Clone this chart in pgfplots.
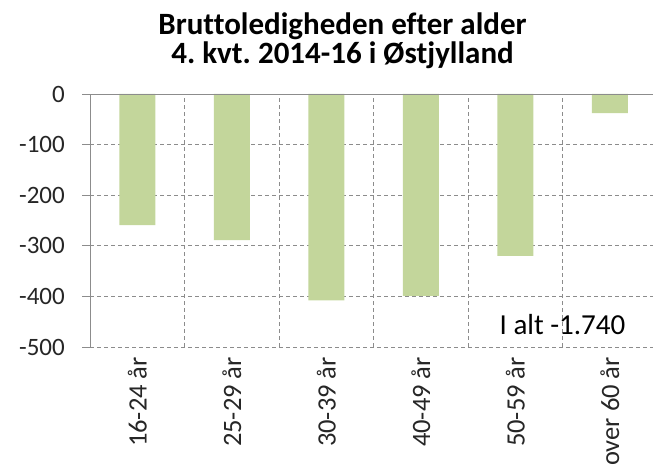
\documentclass[border=0pt]{standalone}
\usepackage{fontspec}
\setmainfont{Carlito}[Ligatures=NoCommon]
\usepackage{pgfplots}
\pgfplotsset{compat=1.18}
\definecolor{bargreen}{HTML}{C3D69B}
\definecolor{gridgray}{HTML}{8C8C8C}
\definecolor{txt}{HTML}{262626}
\frenchspacing
\begin{document}
\begin{tikzpicture}
\useasboundingbox (0,0) rectangle (653pt,470pt);
\clip (0,0) rectangle (653pt,470pt);
\node[anchor=base, inner sep=0pt, font=\bfseries\fontsize{31}{36}\selectfont, text=black] at (342.5pt,435pt) {Bruttoledigheden efter alder};
\node[anchor=base, inner sep=0pt, font=\bfseries\fontsize{31}{36}\selectfont, text=black] at (342.5pt,406pt) {4. kvt. 2014-16 i Østjylland};
\begin{axis}[
  at={(90pt,123pt)}, anchor=south west,
  scale only axis, width=567pt, height=253pt,
  xmin=-0.5, xmax=5.5, ymin=-500, ymax=0,
  ytick={-500,-400,-300,-200,-100,0},
  yticklabels={-500,-400,-300,-200,-100,0},
  xtick={0,1,2,3,4,5},
  xticklabels={16-24 år,25-29 år,30-39 år,40-49 år,50-59 år,over 60 år},
  minor xtick={0.5,1.5,2.5,3.5,4.5},
  xminorgrids, ymajorgrids,
  grid style={gridgray, line width=0.8pt, dash pattern=on 4pt off 3pt},
  minor grid style={gridgray, line width=0.8pt, dash pattern=on 4pt off 3pt},
  axis line style={draw=none},
  ytick pos=left, xtick pos=bottom, tick align=outside,
  major tick length=8pt, minor tick length=0pt,
  xtick style={draw=none},
  ytick style={gridgray, line width=0.8pt},
  yticklabel style={font=\fontsize{25}{30}\selectfont, text=txt, anchor=east, inner sep=0pt},
  xticklabel style={font=\fontsize{26.5}{30}\selectfont, text=txt, rotate=90, anchor=east, inner sep=0pt},
  /pgf/number format/assume math mode=true,
  xticklabel shift=2pt,
  yticklabel shift=17pt,
  clip=false,
]
\addplot[ybar, bar width=36pt, fill=bargreen, draw=none] coordinates {(0,-259) (1,-289) (2,-408) (3,-399) (4,-320) (5,-38)};
\draw[gridgray, line width=0.8pt] (axis cs:-0.5,-500) -- (axis cs:-0.5,0) -- (axis cs:5.5,0);
\node[anchor=base, font=\fontsize{29}{35}\selectfont, text=black, inner sep=0pt] at (axis cs:4.5,-476) {I alt -1.740};
\end{axis}
\end{tikzpicture}
\end{document}
